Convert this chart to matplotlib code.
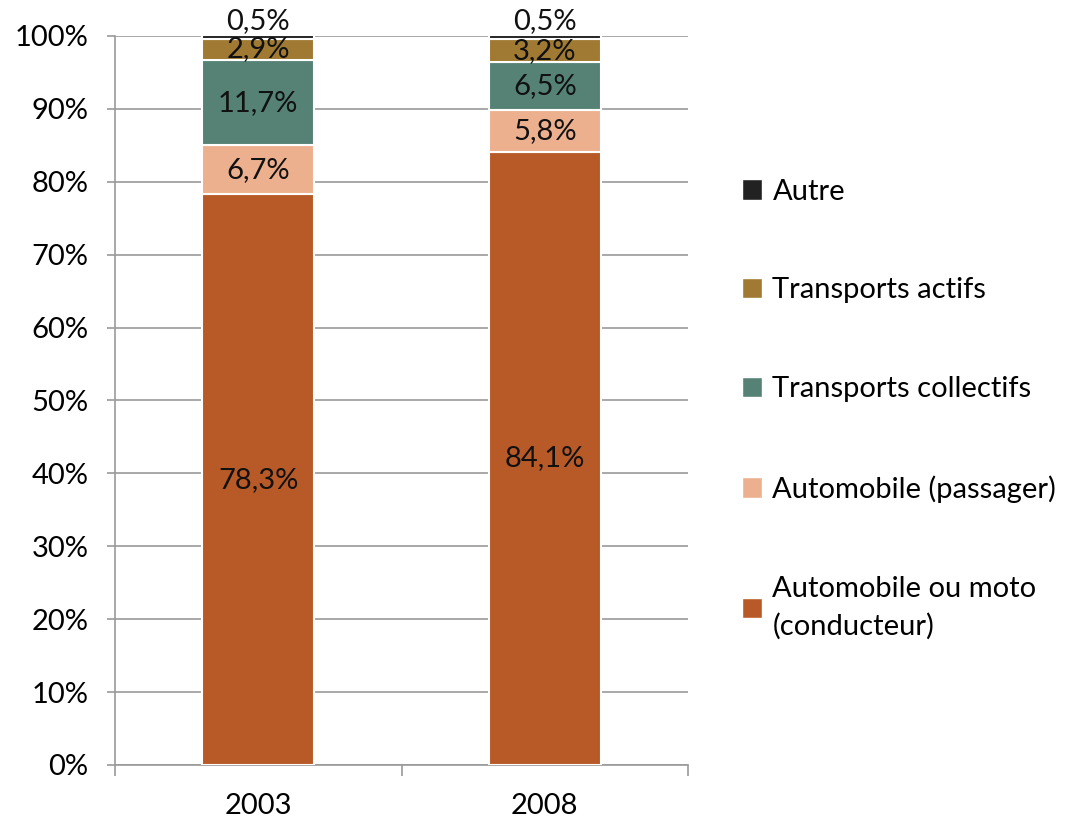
import numpy as np
import matplotlib
matplotlib.use('Agg')
import matplotlib.pyplot as plt
from matplotlib.patches import Patch

plt.rcParams['font.family'] = ['Lato', 'DejaVu Sans']

years = ['2003', '2008']
conducteur = [78.3, 84.1]
passager = [6.7, 5.8]
collectifs = [11.7, 6.5]
actifs = [2.9, 3.2]
autre = [0.5, 0.5]

series = [
    ('Automobile ou moto\n(conducteur)', conducteur, '#b85a27'),
    ('Automobile (passager)', passager, '#edb08f'),
    ('Transports collectifs', collectifs, '#568276'),
    ('Transports actifs', actifs, '#a07a32'),
    ('Autre', autre, '#222222'),
]

fs = 21

fig = plt.figure(figsize=(10.69, 8.18), dpi=100)
ax = fig.add_axes([0.1076, 0.0648, 0.5360, 0.8912])

x = np.arange(len(years))
bottom = np.zeros(len(years))
handles = []
for name, vals, col in series:
    vals = np.array(vals)
    ax.bar(x, vals, width=0.39, bottom=bottom, color=col,
           edgecolor='white', linewidth=1.5, zorder=3)
    for xi, b, v in zip(x, bottom, vals):
        lab = f"{v:.1f}%".replace('.', ',')
        if name == 'Autre':
            ax.text(xi, b + v + 0.2, lab, ha='center', va='bottom',
                    fontsize=fs, color='#111111', clip_on=False, zorder=5)
        else:
            ax.text(xi, b + v / 2, lab, ha='center', va='center',
                    fontsize=fs, color='#111111', zorder=5)
    bottom += vals
    handles.append(Patch(facecolor=col, edgecolor='white', label=name))

ax.set_xlim(-0.5, 1.5)
ax.set_ylim(0, 100)
ax.set_yticks(np.arange(0, 101, 10))
ax.set_yticklabels([f"{v}%" for v in range(0, 101, 10)])
ax.yaxis.grid(True, color='#9a9a9a', linewidth=1.2, zorder=0)

ax.set_xticks(x)
ax.set_xticklabels(years)
ax.set_xticks([-0.5, 0.5, 1.5], minor=True)
ax.tick_params(axis='x', which='major', length=0, pad=20, labelsize=fs)
ax.tick_params(axis='x', which='minor', length=8, color='#9a9a9a', width=1.2)
ax.tick_params(axis='y', length=6, color='#9a9a9a', width=1.2, pad=13,
               labelsize=fs)

for s in ['top', 'right']:
    ax.spines[s].set_visible(False)
for s in ['left', 'bottom']:
    ax.spines[s].set_color('#9a9a9a')
    ax.spines[s].set_linewidth(1.2)

leg = fig.legend(handles=handles[::-1], loc='upper left',
                 bbox_to_anchor=(0.683, 0.796), frameon=False, fontsize=fs,
                 handlelength=0.7, handleheight=0.7, handletextpad=0.35,
                 labelspacing=2.5, borderaxespad=0)
leg.get_texts()[-1].set_linespacing(1.5)

fig.savefig('out.png', dpi=100)
